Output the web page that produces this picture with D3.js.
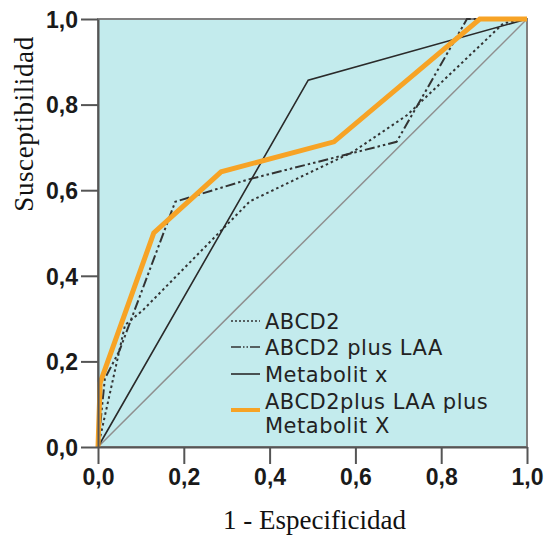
<!DOCTYPE html>
<html>
<head>
<meta charset="utf-8">
<script src="https://cdn.jsdelivr.net/npm/d3@7"></script>
<style>
  html, body { margin: 0; padding: 0; background: #fff; }
  svg { display: block; }
</style>
</head>
<body>
<svg id="chart" width="548" height="540"></svg>
<script>
// ROC curves: x = 1 - specificity, y = sensitivity
const tickValues = [0, 0.2, 0.4, 0.6, 0.8, 1.0];
const tickLabels = ["0,0", "0,2", "0,4", "0,6", "0,8", "1,0"];

const seriesNames = ["ABCD2", "ABCD2 plus LAA", "Metabolit x", "ABCD2plus LAA plus\nMetabolit X"];

const abcd2X = [0, 0.063, 0.105, 0.354, 0.595, 0.72, 0.945, 1];
const abcd2Y = [0, 0.285, 0.32, 0.574, 0.69, 0.775, 0.99, 1];

const abcd2LaaX = [0, 0.016, 0.05, 0.18, 0.35, 0.696, 0.86, 1];
const abcd2LaaY = [0, 0.16, 0.225, 0.573, 0.625, 0.713, 1.0, 1];

const metabX = [0, 0.49, 1];
const metabY = [0, 0.857, 1];

const combinedX = [0, 0.005, 0.13, 0.287, 0.55, 0.89, 1];
const combinedY = [0, 0.15, 0.5, 0.643, 0.713, 1.0, 1];

const refX = [0, 1];
const refY = [0, 1];

const svg = d3.select("#chart");
const plotLeft = 98, plotRight = 527, plotTop = 19, plotBottom = 447;

const x = d3.scaleLinear().domain([0, 1]).range([plotLeft, plotRight]);
const y = d3.scaleLinear().domain([0, 1]).range([plotBottom, plotTop]);

// plot background
svg.append("rect")
  .attr("x", plotLeft).attr("y", plotTop)
  .attr("width", plotRight - plotLeft).attr("height", plotBottom - plotTop)
  .attr("fill", "#c3ebed")
  .attr("stroke", "#808080")
  .attr("stroke-width", 2);

const zip = (xs, ys) => xs.map((v, i) => [v, ys[i]]);
const line = d3.line().x(d => x(d[0])).y(d => y(d[1]));

const styles = [
  { color: "#333", width: 2, dash: "2.5,3" },
  { color: "#333", width: 2, dash: "10,3,2.5,3,2.5,3" },
  { color: "#2a2a2a", width: 1.6, dash: null },
  { color: "#f7a325", width: 5, dash: null }
];

// reference diagonal
svg.append("path")
  .attr("d", line(zip(refX, refY)))
  .attr("fill", "none")
  .attr("stroke", "#8f8f8f")
  .attr("stroke-width", 1.5);

const series = [
  zip(abcd2X, abcd2Y),
  zip(abcd2LaaX, abcd2LaaY),
  zip(metabX, metabY),
  zip(combinedX, combinedY)
];

series.forEach((pts, i) => {
  const s = styles[i];
  svg.append("path")
    .attr("d", line(pts))
    .attr("fill", "none")
    .attr("stroke", s.color)
    .attr("stroke-width", s.width)
    .attr("stroke-dasharray", s.dash)
    .attr("stroke-linejoin", "miter");
});

// axes
const fmt = d => tickLabels[tickValues.indexOf(d)];
const xAxis = d3.axisBottom(x).tickValues(tickValues).tickFormat(fmt).tickSizeInner(17).tickSizeOuter(0).tickPadding(5);
const yAxis = d3.axisLeft(y).tickValues(tickValues).tickFormat(fmt).tickSizeInner(17).tickSizeOuter(0).tickPadding(3);

const gx = svg.append("g").attr("transform", `translate(0,${plotBottom})`).call(xAxis);
const gy = svg.append("g").attr("transform", `translate(${plotLeft},0)`).call(yAxis);

[gx, gy].forEach(g => {
  g.select(".domain").attr("stroke", "#555").attr("stroke-width", 2);
  g.selectAll(".tick line").attr("stroke", "#555").attr("stroke-width", 2);
  g.selectAll(".tick text")
    .attr("fill", "#1a1a1a")
    .style("font-family", "'Liberation Sans', Arial, sans-serif")
    .style("font-weight", "bold")
    .style("font-size", "23px");
});
gy.selectAll(".tick text").attr("dy", "0.36em");

// axis titles
svg.append("text")
  .attr("x", (plotLeft + plotRight) / 2 + 2)
  .attr("y", 529)
  .attr("text-anchor", "middle")
  .style("font-family", "'Liberation Serif', 'Times New Roman', serif")
  .style("font-size", "27px")
  .attr("fill", "#111")
  .text("1 - Especificidad");

svg.append("text")
  .attr("transform", "translate(33,124) rotate(-90)")
  .attr("text-anchor", "middle")
  .style("font-family", "'Liberation Serif', 'Times New Roman', serif")
  .style("font-size", "27px")
  .style("letter-spacing", "0.6px")
  .attr("fill", "#111")
  .text("Susceptibilidad");

// legend
const legend = svg.append("g");
const rowY = [321, 347, 374, 401];
seriesNames.forEach((name, i) => {
  const s = styles[i];
  const ly = rowY[i] + (i === 3 ? 9 : 0);
  legend.append("line")
    .attr("x1", 231).attr("x2", 260)
    .attr("y1", ly).attr("y2", ly)
    .attr("stroke", s.color)
    .attr("stroke-width", s.width === 5 ? 4 : 1.6)
    .attr("stroke-dasharray", i === 0 ? "2,2" : (i === 1 ? "10,2,1.5,2,1.5,2" : null));
  const t = legend.append("text")
    .attr("x", 265)
    .attr("y", rowY[i])
    .style("font-family", "'DejaVu Sans', Verdana, sans-serif")
    .style("font-size", "21px")
    .style("letter-spacing", "0.5px")
    .attr("fill", "#222");
  name.split("\n").forEach((part, j) => {
    t.append("tspan").attr("x", 265).attr("dy", j === 0 ? "0.36em" : "1.15em").text(part);
  });
});
</script>
</body>
</html>
